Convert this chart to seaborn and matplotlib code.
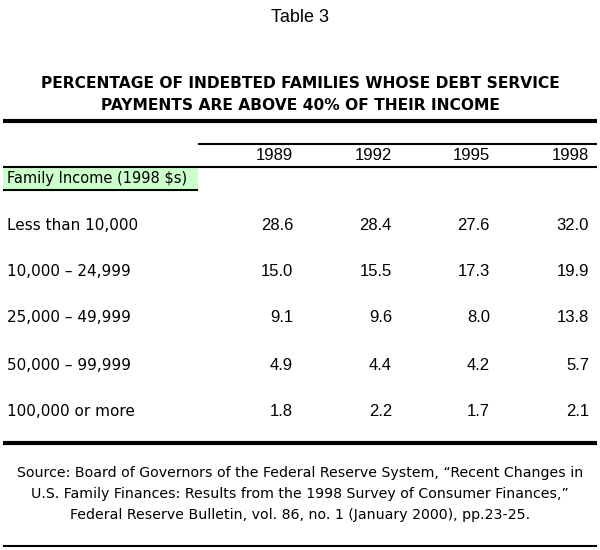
import pandas as pd
import matplotlib.pyplot as plt
import seaborn as sns
from matplotlib.patches import Rectangle

sns.set_theme(style="white")
plt.rcParams["font.family"] = ["DejaVu Sans"]
plt.rcParams["text.color"] = "black"

years = ["1989", "1992", "1995", "1998"]
income_groups = ["Less than 10,000", "10,000 \u2013 24,999", "25,000 \u2013 49,999",
                 "50,000 \u2013 99,999", "100,000 or more"]
pct_1989 = [28.6, 15.0, 9.1, 4.9, 1.8]
pct_1992 = [28.4, 15.5, 9.6, 4.4, 2.2]
pct_1995 = [27.6, 17.3, 8.0, 4.2, 1.7]
pct_1998 = [32.0, 19.9, 13.8, 5.7, 2.1]

df = pd.DataFrame({"1989": pct_1989, "1992": pct_1992,
                   "1995": pct_1995, "1998": pct_1998}, index=income_groups)

title = "PERCENTAGE OF INDEBTED FAMILIES WHOSE DEBT SERVICE\nPAYMENTS ARE ABOVE 40% OF THEIR INCOME"
source = ("Source: Board of Governors of the Federal Reserve System, \u201cRecent Changes in\n"
          "U.S. Family Finances: Results from the 1998 Survey of Consumer Finances,\u201d\n"
          "Federal Reserve Bulletin, vol. 86, no. 1 (January 2000), pp.23-25.")

# layout in pixel units
col_right = [293, 392, 490, 589]
row_y = [225, 272, 318, 365, 411]

fig = plt.figure(figsize=(6, 5.5), dpi=100)
ax = fig.add_axes([0, 0, 1, 1])
ax.set_xlim(0, 600)
ax.set_ylim(550, 0)
ax.axis("off")

ax.text(300, 17, "Table 3", ha="center", va="center", fontsize=13, family="Liberation Sans")
ax.text(300, 94.5, title, ha="center", va="center", fontsize=11.2, fontweight="bold",
        linespacing=1.62)

ax.hlines(121, 3, 597, color="black", lw=3)
ax.hlines(144, 198, 597, color="black", lw=1.5)
ax.hlines(167, 3, 597, color="black", lw=1.5)
ax.add_patch(Rectangle((3, 168), 195, 21, facecolor="#ccffcc", edgecolor="none"))
ax.hlines(190, 3, 198, color="black", lw=1.5)
ax.text(7, 179, "Family Income (1998 $s)", ha="left", va="center", fontsize=10.5)

for x, yr in zip(col_right, years):
    ax.text(x, 156, yr, ha="right", va="center", fontsize=12, family="Liberation Sans")

for y, grp in zip(row_y, df.index):
    ax.text(7, y, grp, ha="left", va="center", fontsize=11)
    for x, yr in zip(col_right, years):
        ax.text(x, y, f"{df.loc[grp, yr]:.1f}", ha="right", va="center",
                fontsize=12, family="Liberation Sans")

ax.hlines(443, 3, 597, color="black", lw=3)
ax.text(300, 494, source, ha="center", va="center", fontsize=10.2, linespacing=1.6)
ax.hlines(546, 3, 597, color="black", lw=1.5)

fig.savefig("out.png", dpi=100)
